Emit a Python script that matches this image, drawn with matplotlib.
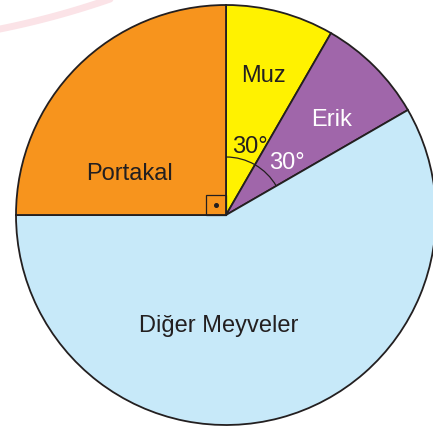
import matplotlib
matplotlib.use("Agg")
import matplotlib.pyplot as plt
import numpy as np
from matplotlib.patches import Arc, Rectangle

# Data: slice angles in degrees (clockwise from 12 o'clock)
categories = ["Muz", "Erik", "Diğer Meyveler", "Portakal"]
angles = [30, 30, 210, 90]
colors = ["#FFF200", "#A066AA", "#C7E9F9", "#F7941D"]
label_colors = ["#231F20", "white", "#231F20", "#231F20"]
angle_labels = ["30°", "30°"]

W, H = 433, 427
fig = plt.figure(figsize=(W / 100, H / 100), dpi=100)
ax = fig.add_axes([0, 0, 1, 1])

def py(y):  # pixel row -> data y
    return H - y

cx, cy, R = 226, py(216), 210
edge = "#231F20"

# faint watermark stroke (background decoration)
wa, wb = -166, -796.5
wr = np.hypot(0 - wa, 30 - wb)
wx = np.linspace(-5, 118, 60)
wy = wb + np.sqrt(wr ** 2 - (wx - wa) ** 2)
ax.plot(wx, py(wy), color="#FBE3E7", lw=5, solid_capstyle="round", zorder=0)

ax.pie(angles, colors=colors, startangle=90, counterclock=False,
       center=(cx, cy), radius=R, frame=True,
       wedgeprops=dict(edgecolor=edge, linewidth=1.3))
ax.set_xlim(0, W)
ax.set_ylim(0, H)
ax.set_aspect("equal")
ax.axis("off")

font = "Liberation Sans"
fs = 17
label_pos = {"Muz": (263.5, 82), "Erik": (332, 126),
             "Diğer Meyveler": (218.5, 332), "Portakal": (129, 180)}
for cat, col in zip(categories, label_colors):
    x, y = label_pos[cat]
    ax.text(x, py(y), cat, ha="center", va="baseline", fontsize=fs,
            color=col, family=font, zorder=5)

# angle marks
ax.add_patch(Arc((cx, cy), 116, 116, theta1=30, theta2=90, color=edge,
                 lw=0.9, zorder=4))
ax.text(250, py(153), angle_labels[0], ha="center", va="baseline",
        fontsize=fs, color="#231F20", family=font, zorder=5)
ax.text(287, py(169), angle_labels[1], ha="center", va="baseline",
        fontsize=fs, color="white", family=font, zorder=5)

# right angle marker
ax.add_patch(Rectangle((cx - 20, cy), 20, 20, fill=False, edgecolor=edge,
                       lw=0.9, zorder=4))
ax.plot([cx - 10], [cy + 10], "o", color=edge, ms=2.6, zorder=5)

fig.savefig("out.png", dpi=100)
